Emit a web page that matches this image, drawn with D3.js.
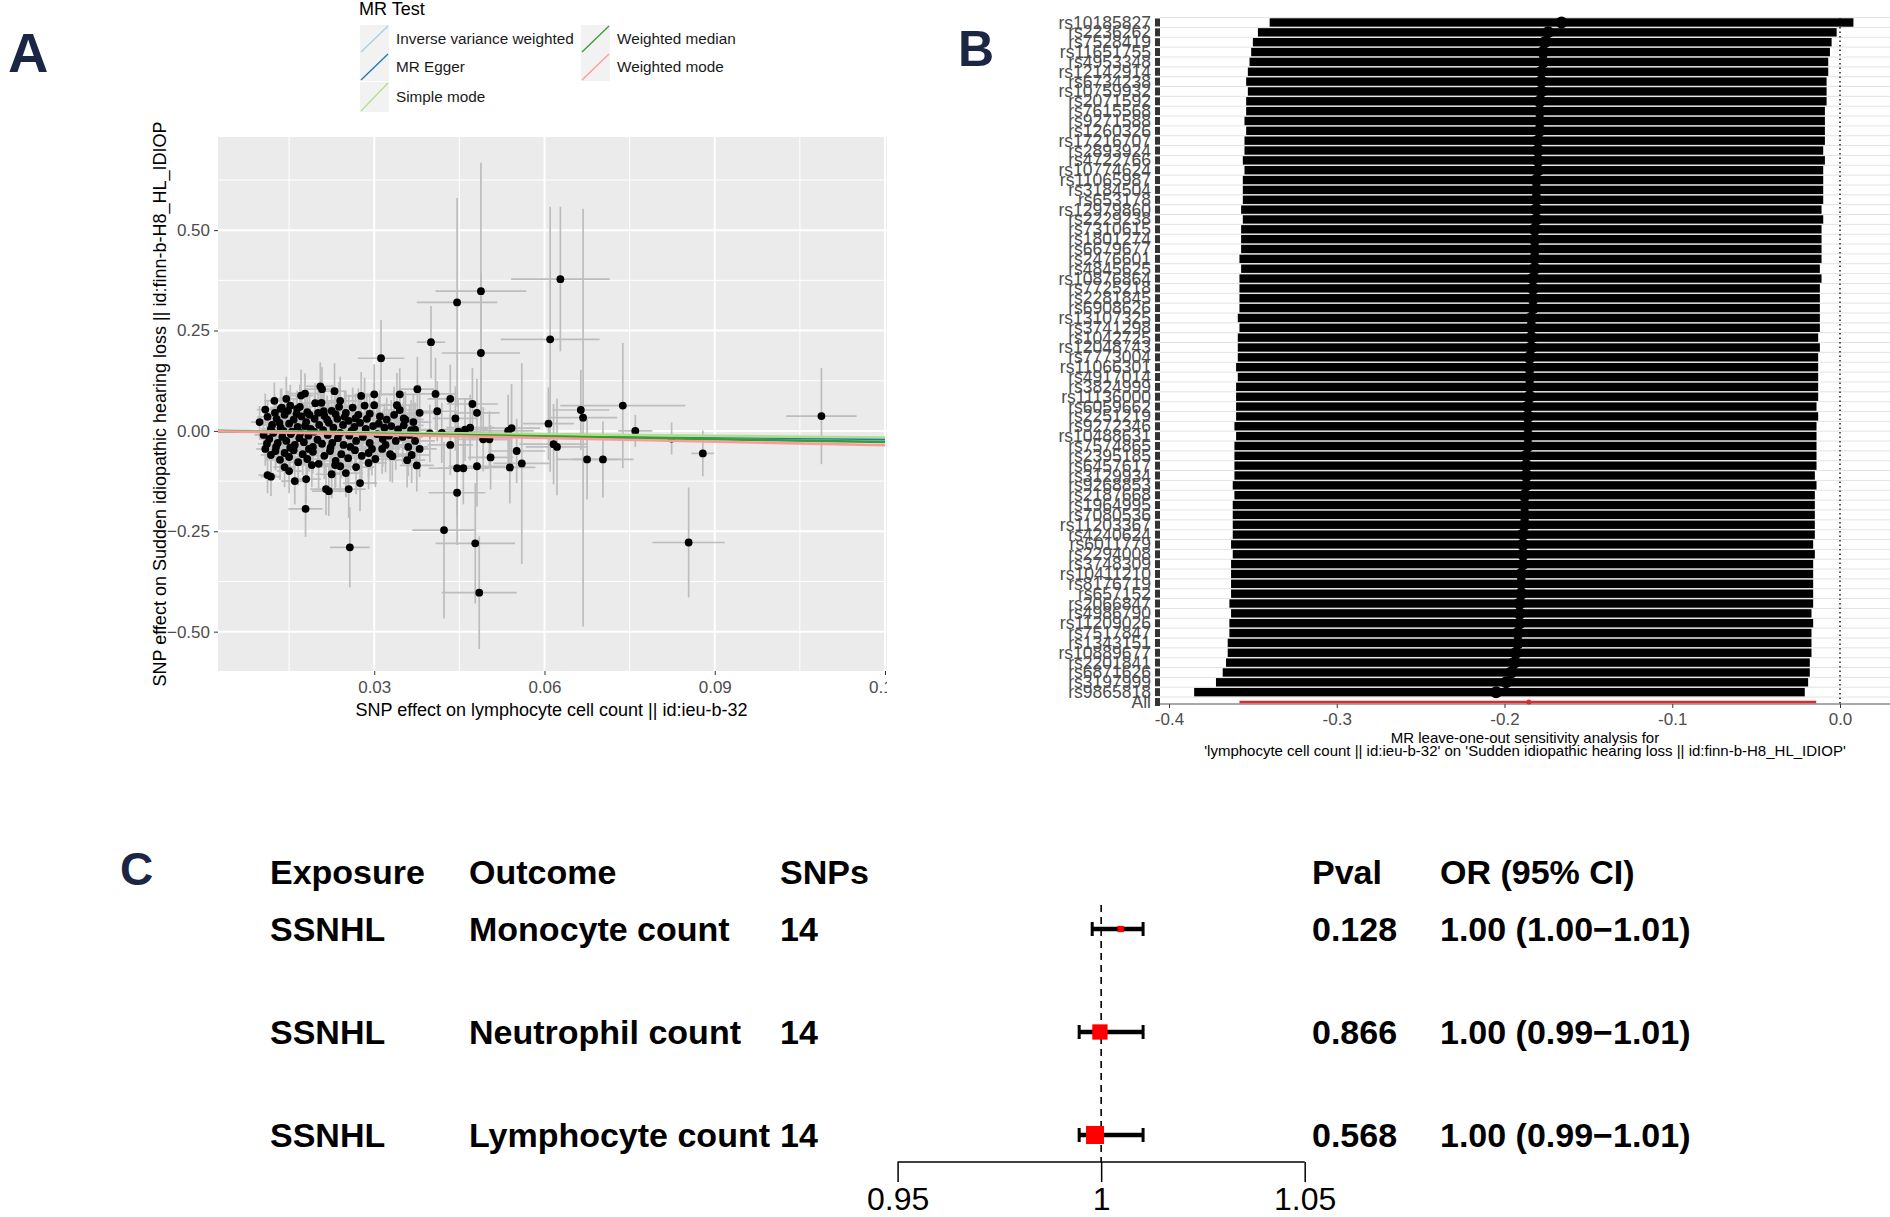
<!DOCTYPE html>
<html><head><meta charset="utf-8">
<script src="https://cdn.jsdelivr.net/npm/d3@7"></script>
<style>
body{margin:0;background:#fff}
svg{display:block}
text{font-family:"Liberation Sans",Arial,sans-serif}
</style>
</head><body>
<svg id="fig" width="1890" height="1217"></svg>
<script>
// ---------------- Panel A data ----------------
const mrMethods = ["Inverse variance weighted","MR Egger","Simple mode","Weighted median","Weighted mode"];
const mrSlopes = [-0.186,-0.167,-0.138,-0.230,-0.298];
const mrIntercepts = [0,0.0003,0,0,0];
const mrColors = ["#a6cee3","#1f78b4","#b2df8a","#33a02c","#fb9a99"];
const scatterXTicks = [0.03,0.06,0.09,0.12];
const scatterYTicks = [-0.50,-0.25,0.00,0.25,0.50];
// [beta exposure, beta outcome, se exposure, se outcome]
const snpEffects = [
[0.0205,0.111,0.0025,0.060],[0.0208,0.104,0.0030,0.055],[0.0230,0.099,0.0020,0.070],[0.0178,0.093,0.0028,0.050],
[0.0171,0.088,0.0022,0.065],[0.0277,0.087,0.0030,0.060],[0.0300,0.091,0.0035,0.075],[0.0345,0.091,0.0030,0.065],
[0.0124,0.075,0.0018,0.045],[0.0145,0.080,0.0020,0.055],[0.0196,0.069,0.0026,0.050],[0.0240,0.075,0.0030,0.060],
[0.0262,0.058,0.0024,0.050],[0.0283,0.063,0.0032,0.070],[0.0300,0.064,0.0028,0.055],[0.0340,0.064,0.0035,0.080],
[0.0345,0.052,0.0030,0.060],[0.0108,0.053,0.0015,0.040],[0.0137,0.058,0.0020,0.048],[0.0152,0.063,0.0022,0.052],
[0.0164,0.055,0.0025,0.045],[0.0182,0.047,0.0020,0.055],[0.0211,0.049,0.0028,0.050],[0.0225,0.050,0.0025,0.065],
[0.0250,0.045,0.0030,0.055],[0.0267,0.031,0.0030,0.060],[0.0292,0.043,0.0028,0.050],[0.0310,0.036,0.0035,0.065],
[0.0322,0.028,0.0030,0.055],[0.0355,0.028,0.0032,0.070],[0.0098,0.022,0.0015,0.040],[0.0112,0.035,0.0018,0.042],
[0.0120,0.015,0.0016,0.038],[0.0128,0.030,0.0020,0.045],[0.0135,0.008,0.0018,0.040],[0.0142,0.040,0.0020,0.050],
[0.0150,0.018,0.0022,0.045],[0.0158,0.028,0.0020,0.052],[0.0165,0.010,0.0024,0.048],[0.0172,0.036,0.0022,0.055],
[0.0180,0.022,0.0025,0.050],[0.0188,0.005,0.0020,0.045],[0.0195,0.030,0.0026,0.058],[0.0203,0.015,0.0024,0.050],
[0.0212,0.038,0.0028,0.060],[0.0220,0.020,0.0025,0.052],[0.0228,0.008,0.0030,0.055],[0.0235,0.030,0.0026,0.060],
[0.0245,0.015,0.0028,0.050],[0.0255,0.025,0.0030,0.065],[0.0265,0.010,0.0026,0.055],[0.0275,0.020,0.0030,0.060],
[0.0285,0.005,0.0032,0.058],[0.0298,0.012,0.0030,0.062],[0.0308,0.018,0.0035,0.070],[0.0318,0.008,0.0030,0.060],
[0.0330,0.012,0.0034,0.065],[0.0342,0.004,0.0032,0.070],[0.0352,0.014,0.0035,0.060],[0.0365,0.002,0.0030,0.075],
[0.0105,-0.010,0.0016,0.040],[0.0115,-0.020,0.0018,0.042],[0.0122,-0.005,0.0017,0.045],[0.0130,-0.030,0.0020,0.048],
[0.0138,-0.015,0.0019,0.040],[0.0145,-0.025,0.0022,0.050],[0.0153,-0.008,0.0020,0.045],[0.0160,-0.035,0.0024,0.052],
[0.0168,-0.018,0.0022,0.048],[0.0176,-0.028,0.0025,0.055],[0.0184,-0.012,0.0022,0.050],[0.0192,-0.040,0.0026,0.058],
[0.0200,-0.022,0.0024,0.052],[0.0208,-0.032,0.0028,0.060],[0.0218,-0.010,0.0025,0.055],[0.0226,-0.030,0.0028,0.060],
[0.0236,-0.018,0.0026,0.058],[0.0246,-0.035,0.0030,0.062],[0.0256,-0.012,0.0028,0.055],[0.0268,-0.025,0.0030,0.065],
[0.0280,-0.015,0.0032,0.060],[0.0292,-0.030,0.0030,0.068],[0.0305,-0.008,0.0034,0.065],[0.0315,-0.020,0.0032,0.070],
[0.0326,-0.012,0.0035,0.062],[0.0338,-0.025,0.0033,0.072],[0.0350,-0.015,0.0036,0.068],[0.0362,-0.010,0.0034,0.075],
[0.0372,-0.025,0.0035,0.070],[0.0108,-0.045,0.0016,0.042],[0.0118,-0.060,0.0018,0.045],[0.0126,-0.050,0.0020,0.048],
[0.0134,-0.072,0.0020,0.050],[0.0142,-0.055,0.0022,0.045],[0.0150,-0.065,0.0022,0.055],[0.0158,-0.048,0.0024,0.050],
[0.0166,-0.078,0.0025,0.058],[0.0174,-0.058,0.0024,0.052],[0.0182,-0.070,0.0026,0.060],[0.0192,-0.052,0.0025,0.055],
[0.0202,-0.082,0.0028,0.062],[0.0212,-0.062,0.0026,0.058],[0.0222,-0.050,0.0028,0.055],[0.0232,-0.075,0.0030,0.065],
[0.0242,-0.058,0.0028,0.060],[0.0254,-0.068,0.0030,0.062],[0.0266,-0.048,0.0030,0.058],[0.0278,-0.062,0.0032,0.065],
[0.0290,-0.055,0.0030,0.060],[0.0302,-0.070,0.0034,0.070],[0.0314,-0.045,0.0032,0.062],[0.0328,-0.058,0.0035,0.068],
[0.0112,-0.110,0.0016,0.045],[0.0118,-0.114,0.0018,0.048],[0.0142,-0.090,0.0020,0.050],[0.0150,-0.100,0.0022,0.055],
[0.0160,-0.125,0.0024,0.058],[0.0180,-0.120,0.0026,0.060],[0.0190,-0.085,0.0025,0.055],[0.0215,-0.145,0.0028,0.065],
[0.0220,-0.150,0.0030,0.062],[0.0225,-0.108,0.0028,0.060],[0.0240,-0.088,0.0030,0.065],[0.0250,-0.105,0.0030,0.060],
[0.0268,-0.090,0.0032,0.068],[0.0275,-0.130,0.0030,0.070],[0.0255,-0.145,0.0030,0.072],[0.0290,-0.080,0.0032,0.065],
[0.0125,0.045,0.0018,0.044],[0.0133,0.020,0.0019,0.042],[0.0140,0.000,0.0020,0.046],[0.0148,0.050,0.0021,0.050],
[0.0155,-0.002,0.0022,0.048],[0.0163,0.042,0.0022,0.052],[0.0170,-0.005,0.0023,0.050],[0.0178,0.012,0.0024,0.054],
[0.0186,0.040,0.0024,0.056],[0.0194,-0.002,0.0025,0.052],[0.0201,0.045,0.0026,0.058],[0.0210,0.002,0.0026,0.055],
[0.0217,0.028,0.0027,0.060],[0.0232,0.042,0.0028,0.062],[0.0240,-0.005,0.0028,0.058],[0.0248,0.035,0.0029,0.064],
[0.0260,0.000,0.0030,0.060],[0.0272,0.040,0.0030,0.066],[0.0118,0.005,0.0017,0.043],[0.0111,-0.032,0.0016,0.044],
[0.0127,-0.040,0.0019,0.046],[0.0135,0.055,0.0020,0.050],[0.0152,-0.042,0.0021,0.050],[0.0169,0.060,0.0023,0.055],
[0.0185,-0.045,0.0024,0.056],[0.0207,0.070,0.0026,0.060],[0.0223,-0.042,0.0027,0.058],[0.0238,0.060,0.0028,0.062],
[0.0258,-0.040,0.0030,0.060],[0.0287,0.030,0.0031,0.064],[0.0296,-0.045,0.0032,0.066],[0.0335,0.040,0.0034,0.070],
[0.0320,-0.035,0.0033,0.068],[0.0360,-0.040,0.0035,0.072],
[0.0380,0.045,0.0032,0.070],[0.0411,0.049,0.0035,0.075],[0.0352,0.031,0.0030,0.065],[0.0369,0.022,0.0032,0.070],
[0.0372,0.003,0.0030,0.068],[0.0398,-0.006,0.0035,0.072],[0.0419,-0.005,0.0036,0.075],[0.0448,-0.002,0.0040,0.080],
[0.0460,0.003,0.0040,0.078],[0.0469,0.008,0.0042,0.082],[0.0536,0.000,0.0045,0.090],[0.0366,-0.060,0.0032,0.070],
[0.0358,-0.073,0.0032,0.068],[0.0332,-0.063,0.0030,0.066],[0.0231,-0.085,0.0028,0.060],
[0.0400,0.221,0.0025,0.090],[0.0312,0.181,0.0041,0.095],[0.0446,0.320,0.0071,0.260],[0.0488,0.348,0.0080,0.320],
[0.0488,0.194,0.0069,0.200],[0.0628,0.378,0.0087,0.180],[0.0610,0.228,0.0087,0.330],[0.0376,0.104,0.0030,0.080],
[0.0408,0.092,0.0035,0.090],[0.0434,0.080,0.0040,0.085],[0.0473,0.067,0.0045,0.090],[0.0443,0.031,0.0040,0.080],
[0.0481,0.045,0.0040,0.085],[0.0664,0.052,0.0050,0.100],[0.0738,0.063,0.0110,0.156],[0.0668,0.033,0.0060,0.520],
[0.0607,0.018,0.0045,0.090],[0.0760,0.000,0.0030,0.040],[0.1088,0.037,0.0062,0.120],[0.0542,0.007,0.0050,0.110],
[0.0824,-0.019,0.0030,0.040],[0.0879,-0.056,0.0020,0.057],[0.0616,-0.033,0.0060,0.100],[0.0622,-0.040,0.0055,0.120],
[0.0675,-0.071,0.0055,0.100],[0.0703,-0.071,0.0054,0.095],[0.0551,-0.050,0.0050,0.080],[0.0560,-0.081,0.0050,0.250],
[0.0539,-0.091,0.0045,0.090],[0.0505,-0.066,0.0040,0.080],[0.0492,-0.021,0.0045,0.080],[0.0503,-0.021,0.0040,0.070],
[0.0434,-0.035,0.0040,0.075],[0.0446,-0.093,0.0050,0.120],[0.0457,-0.093,0.0045,0.090],[0.0481,-0.088,0.0050,0.100],
[0.0446,-0.154,0.0050,0.130],[0.0423,-0.247,0.0056,0.220],[0.0478,-0.280,0.0070,0.150],[0.0854,-0.278,0.0064,0.137],
[0.0485,-0.403,0.0066,0.140],[0.0257,-0.290,0.0035,0.100],[0.0179,-0.194,0.0030,0.070],[0.0380,-0.045,0.0030,0.070],
[0.0375,-0.086,0.0030,0.065]
];

// ---------------- Panel B data ----------------
const looSnps = ["rs10185827","rs2236262","rs7528419","rs11651755","rs4953348","rs12142914","rs6734238","rs10759932",
"rs2071592","rs7615568","rs9271588","rs1260326","rs17216707","rs2893924","rs4722766","rs10774624",
"rs11065987","rs3184504","rs653178","rs12979860","rs2229238","rs7310615","rs1801274","rs6679677",
"rs2476601","rs4845625","rs10876864","rs7725218","rs2281845","rs6908626","rs13107325","rs3741298",
"rs1042725","rs12048743","rs7773004","rs11066301","rs4917014","rs3824999","rs11136000","rs6059662",
"rs2251219","rs9272346","rs10488631","rs7574865","rs2395185","rs6457617","rs3129934","rs9268853",
"rs2187668","rs1964995","rs7080536","rs11203367","rs4240624","rs6011779","rs2294008","rs3748309",
"rs10411210","rs8176719","rs657152","rs2066847","rs4986790","rs11209026","rs7517847","rs1343151",
"rs10889677","rs2201841","rs6871626","rs3197999","rs9865818","All"];
const looB = [-0.166,-0.174,-0.176,-0.177,-0.177,-0.178,-0.178,-0.178,-0.179,-0.179,-0.179,-0.179,-0.180,-0.180,-0.180,-0.180,
-0.181,-0.181,-0.181,-0.181,-0.181,-0.182,-0.182,-0.182,-0.182,-0.182,-0.183,-0.183,-0.183,-0.183,-0.184,-0.184,
-0.184,-0.184,-0.185,-0.185,-0.185,-0.185,-0.185,-0.186,-0.186,-0.186,-0.186,-0.186,-0.187,-0.187,-0.187,-0.187,
-0.188,-0.188,-0.188,-0.188,-0.189,-0.189,-0.189,-0.189,-0.190,-0.190,-0.190,-0.191,-0.191,-0.191,-0.192,-0.192,
-0.193,-0.194,-0.196,-0.199,-0.205,-0.1855];
const looLo = [-0.340,-0.347,-0.350,-0.351,-0.352,-0.353,-0.354,-0.353,-0.354,-0.354,-0.355,-0.354,-0.355,-0.355,-0.356,-0.355,
-0.356,-0.356,-0.356,-0.357,-0.356,-0.357,-0.357,-0.357,-0.358,-0.357,-0.358,-0.358,-0.358,-0.358,-0.359,-0.358,
-0.359,-0.359,-0.359,-0.360,-0.359,-0.360,-0.360,-0.360,-0.360,-0.361,-0.360,-0.361,-0.361,-0.361,-0.361,-0.362,
-0.361,-0.362,-0.362,-0.362,-0.362,-0.363,-0.362,-0.363,-0.363,-0.363,-0.363,-0.364,-0.363,-0.364,-0.364,-0.365,
-0.365,-0.366,-0.368,-0.372,-0.385,-0.358];
const looHi = [0.008,-0.002,-0.005,-0.006,-0.007,-0.007,-0.008,-0.008,-0.008,-0.009,-0.009,-0.009,-0.009,-0.010,-0.009,-0.010,
-0.010,-0.010,-0.010,-0.011,-0.010,-0.011,-0.011,-0.011,-0.011,-0.012,-0.011,-0.012,-0.012,-0.012,-0.012,-0.012,
-0.013,-0.012,-0.013,-0.013,-0.013,-0.013,-0.013,-0.014,-0.013,-0.014,-0.014,-0.014,-0.014,-0.014,-0.015,-0.014,
-0.015,-0.015,-0.015,-0.015,-0.015,-0.016,-0.015,-0.016,-0.016,-0.016,-0.016,-0.016,-0.017,-0.016,-0.017,-0.017,
-0.017,-0.018,-0.018,-0.019,-0.021,-0.0142];
const looXTicks = [-0.4,-0.3,-0.2,-0.1,0.0];

// ---------------- Panel C data ----------------
const forestExposure = ["SSNHL","SSNHL","SSNHL"];
const forestOutcome = ["Monocyte count","Neutrophil count","Lymphocyte count"];
const forestSnps = [14,14,14];
const forestPval = ["0.128","0.866","0.568"];
const forestOR = [1.0048,0.9997,0.9985];
const forestLo = [0.9978,0.9946,0.9946];
const forestHi = [1.0103,1.0103,1.0103];
const forestORText = ["1.00 (1.00\u22121.01)","1.00 (0.99\u22121.01)","1.00 (0.99\u22121.01)"];
const forestWeight = [0.35,0.85,1.0];
const forestTicks = [0.95,1,1.05];
const forestHeaders = ["Exposure","Outcome","SNPs","Pval","OR (95% CI)"];

// ======================================================
const svg = d3.select("#fig");
const navy = "#1b2544";
const FONT = '"Liberation Sans",Arial,sans-serif';

// ---------------- Panel A ----------------
const A = {l:218, r:885, t:137, b:671};
const xA = d3.scaleLinear().domain([0.00247,0.12]).range([A.l,A.r]);
const yA = d3.scaleLinear().domain([-0.598,0.732]).range([A.b,A.t]);

const defs = svg.append("defs");
defs.append("clipPath").attr("id","clipA").append("rect").attr("x",0).attr("y",0).attr("width",887).attr("height",800);
defs.append("clipPath").attr("id","clipPanelA").append("rect")
  .attr("x",A.l).attr("y",A.t).attr("width",A.r-A.l).attr("height",A.b-A.t);

const gA = svg.append("g").attr("clip-path","url(#clipA)");
gA.append("rect").attr("x",A.l).attr("y",A.t).attr("width",A.r-A.l+2).attr("height",A.b-A.t).attr("fill","#ebebeb");

const xMinor = [0.015,0.045,0.075,0.105];
const yMinor = [-0.375,-0.125,0.125,0.375,0.625];
gA.selectAll(".xmin").data(xMinor).join("line").attr("x1",d=>xA(d)).attr("x2",d=>xA(d))
  .attr("y1",A.t).attr("y2",A.b).attr("stroke","#fff").attr("stroke-width",1);
gA.selectAll(".ymin").data(yMinor).join("line").attr("x1",A.l).attr("x2",A.r+2)
  .attr("y1",d=>yA(d)).attr("y2",d=>yA(d)).attr("stroke","#fff").attr("stroke-width",1);
gA.selectAll(".xmaj").data(scatterXTicks).join("line").attr("x1",d=>xA(d)).attr("x2",d=>xA(d))
  .attr("y1",A.t).attr("y2",A.b).attr("stroke","#fff").attr("stroke-width",2);
gA.selectAll(".ymaj").data(scatterYTicks).join("line").attr("x1",A.l).attr("x2",A.r+2)
  .attr("y1",d=>yA(d)).attr("y2",d=>yA(d)).attr("stroke","#fff").attr("stroke-width",2);

const gData = gA.append("g").attr("clip-path","url(#clipPanelA)");
gData.selectAll(".ev").data(snpEffects).join("line")
  .attr("x1",d=>xA(d[0])).attr("x2",d=>xA(d[0]))
  .attr("y1",d=>yA(d[1]-d[3])).attr("y2",d=>yA(d[1]+d[3]))
  .attr("stroke","#bdbdbd").attr("stroke-width",1.7);
gData.selectAll(".eh").data(snpEffects).join("line")
  .attr("x1",d=>xA(d[0]-d[2])).attr("x2",d=>xA(d[0]+d[2]))
  .attr("y1",d=>yA(d[1])).attr("y2",d=>yA(d[1]))
  .attr("stroke","#bdbdbd").attr("stroke-width",1.7);
gData.selectAll(".pt").data(snpEffects).join("circle")
  .attr("cx",d=>xA(d[0])).attr("cy",d=>yA(d[1])).attr("r",3.9).attr("fill","#000");
const xs = xA.domain();
gData.selectAll(".mr").data(mrMethods).join("line")
  .attr("x1",xA(xs[0])).attr("x2",xA(xs[1]))
  .attr("y1",(d,i)=>yA(mrIntercepts[i]+mrSlopes[i]*xs[0]))
  .attr("y2",(d,i)=>yA(mrIntercepts[i]+mrSlopes[i]*xs[1]))
  .attr("stroke",(d,i)=>mrColors[i]).attr("stroke-width",2.6);

// axes A
const axYA = gA.append("g").attr("transform",`translate(${A.l},0)`)
  .call(d3.axisLeft(yA).tickValues(scatterYTicks).tickFormat(d3.format(".2f")).tickSize(4).tickPadding(4));
const axXA = gA.append("g").attr("transform",`translate(0,${A.b})`)
  .call(d3.axisBottom(xA).tickValues(scatterXTicks).tickFormat(d=>String(+d.toFixed(2))).tickSize(4).tickPadding(6));
[axYA,axXA].forEach(a=>{
  a.select(".domain").remove();
  a.selectAll(".tick line").attr("stroke","#333");
  a.selectAll(".tick text").attr("fill","#4d4d4d").style("font-size","17px").style("font-family",FONT);
});
gA.append("text").attr("x",(A.l+A.r)/2).attr("y",716).attr("text-anchor","middle")
  .style("font-size","18px").attr("fill","#000").text("SNP effect on lymphocyte cell count || id:ieu-b-32");
gA.append("text").attr("transform",`translate(166,${(A.t+A.b)/2}) rotate(-90)`).attr("text-anchor","middle")
  .style("font-size","18px").attr("fill","#000").text("SNP effect on Sudden idiopathic hearing loss || id:finn-b-H8_HL_IDIOP");

// legend
const leg = svg.append("g");
leg.append("text").attr("x",359).attr("y",15).style("font-size","18px").attr("fill","#000").text("MR Test");
const legPos = [[360,25],[360,53],[360,82],[581,25],[581,53]];
const legOrder = [0,1,2,3,4];
legOrder.forEach((m,k)=>{
  const [lx,ly] = legPos[k];
  const h = k===2 ? 30 : 28;
  leg.append("rect").attr("x",lx).attr("y",ly).attr("width",29).attr("height",h).attr("fill","#f2f2f2");
  leg.append("line").attr("x1",lx+1).attr("y1",ly+h-1).attr("x2",lx+28).attr("y2",ly+1)
    .attr("stroke",mrColors[m]).attr("stroke-width",1.3);
  leg.append("text").attr("x",lx+36).attr("y",ly+h/2+5).style("font-size","15.3px").attr("fill","#1a1a1a").text(mrMethods[m]);
});

// ---------------- Panel B ----------------
const B = {l:1160, r:1890, t:18, b:704};
const xB = d3.scaleLinear().domain([-0.4,0]).range([1169,1840]);
const yB = d3.scalePoint().domain(looSnps).range([22.5,702]);
const step = yB.step();
const gB = svg.append("g");
const gridYs = [yB(looSnps[0])-step/2].concat(looSnps.slice(0,-1).map(s=>yB(s)+step/2));
gB.selectAll(".gb").data(gridYs).join("line").attr("x1",B.l).attr("x2",B.r)
  .attr("y1",d=>d).attr("y2",d=>d).attr("stroke","#e3e3e3").attr("stroke-width",1);
gB.append("line").attr("x1",xB(0)).attr("x2",xB(0)).attr("y1",B.t).attr("y2",B.b)
  .attr("stroke","#000").attr("stroke-width",1.3).attr("stroke-dasharray","1.5,3");
const rowsB = looSnps.map((s,i)=>({s,b:looB[i],lo:looLo[i],hi:looHi[i],all:s==="All"}));
gB.selectAll(".bar").data(rowsB.filter(d=>!d.all)).join("rect")
  .attr("x",d=>xB(d.lo)).attr("width",d=>xB(d.hi)-xB(d.lo))
  .attr("y",d=>yB(d.s)-4.2).attr("height",8.4).attr("fill","#000");
gB.selectAll(".pb").data(rowsB.filter(d=>!d.all)).join("circle")
  .attr("cx",d=>xB(d.b)).attr("cy",d=>yB(d.s)).attr("r",6).attr("fill","#000");
const allRow = rowsB.filter(d=>d.all);
gB.selectAll(".barAll").data(allRow).join("line")
  .attr("x1",d=>xB(d.lo)).attr("x2",d=>xB(d.hi)).attr("y1",d=>yB(d.s)).attr("y2",d=>yB(d.s))
  .attr("stroke","#e8262a").attr("stroke-width",2.5);
gB.selectAll(".pAll").data(allRow).join("circle")
  .attr("cx",d=>xB(d.b)).attr("cy",d=>yB(d.s)).attr("r",2.5).attr("fill","#e8262a");
gB.selectAll(".lab").data(looSnps).join("text")
  .attr("x",1151).attr("y",d=>yB(d)+6).attr("text-anchor","end")
  .style("font-size","17.5px").attr("fill","#4d4d4d").text(d=>d);
gB.selectAll(".tk").data(looSnps).join("rect")
  .attr("x",1155).attr("y",d=>yB(d)-4).attr("width",5).attr("height",8).attr("fill","#333");
const axXB = gB.append("g").attr("transform",`translate(0,${B.b})`)
  .call(d3.axisBottom(xB).tickValues(looXTicks).tickFormat(d3.format(".1f")).tickSize(4).tickPadding(5));
axXB.select(".domain").remove();
axXB.selectAll(".tick line").attr("stroke","#333");
axXB.selectAll(".tick text").attr("fill","#4d4d4d").style("font-size","17px").style("font-family",FONT)
  .text(d=>d3.format(".1f")(d).replace("\u2212","-"));
gB.append("line").attr("x1",B.l).attr("x2",B.r).attr("y1",B.b).attr("y2",B.b).attr("stroke","#555").attr("stroke-width",1.2);
gB.append("text").attr("x",1525).attr("y",743).attr("text-anchor","middle").style("font-size","15px")
  .attr("fill","#000").text("MR leave-one-out sensitivity analysis for");
gB.append("text").attr("x",1525).attr("y",756).attr("text-anchor","middle").style("font-size","15px")
  .attr("fill","#000").text("'lymphocyte cell count || id:ieu-b-32' on 'Sudden idiopathic hearing loss || id:finn-b-H8_HL_IDIOP'");

// ---------------- Panel C ----------------
const gC = svg.append("g");
const xC = d3.scaleLinear().domain([0.95,1.05]).range([897.6,1304.7]);
const yC = d3.scalePoint().domain(d3.range(forestOutcome.length)).range([929,1135]);
const colX = [270,469,780,1312,1440];
forestHeaders.forEach((h,i)=>{
  gC.append("text").attr("x",colX[i]).attr("y",884).style("font-size","34px").style("font-weight","bold")
    .attr("fill","#000").text(h);
});
const rowsC = forestOutcome.map((o,i)=>({i,exp:forestExposure[i],o,n:forestSnps[i],p:forestPval[i],
  or:forestOR[i],lo:forestLo[i],hi:forestHi[i],t:forestORText[i],w:forestWeight[i]}));
const rowTexts = [d=>d.exp,d=>d.o,d=>d.n,d=>d.p,d=>d.t];
rowTexts.forEach((f,c)=>{
  gC.selectAll(".c"+c).data(rowsC).join("text").attr("x",colX[c]).attr("y",d=>yC(d.i)+12)
    .style("font-size","34px").style("font-weight","bold").attr("fill","#000").text(f);
});
gC.append("line").attr("x1",xC(1)).attr("x2",xC(1)).attr("y1",905).attr("y2",1162)
  .attr("stroke","#000").attr("stroke-width",1.6).attr("stroke-dasharray","7,5");
gC.selectAll(".ci").data(rowsC).join("line").attr("x1",d=>xC(d.lo)).attr("x2",d=>xC(d.hi))
  .attr("y1",d=>yC(d.i)).attr("y2",d=>yC(d.i)).attr("stroke","#000").attr("stroke-width",4.5);
gC.selectAll(".capl").data(rowsC).join("line").attr("x1",d=>xC(d.lo)).attr("x2",d=>xC(d.lo))
  .attr("y1",d=>yC(d.i)-7).attr("y2",d=>yC(d.i)+7).attr("stroke","#000").attr("stroke-width",3);
gC.selectAll(".caph").data(rowsC).join("line").attr("x1",d=>xC(d.hi)).attr("x2",d=>xC(d.hi))
  .attr("y1",d=>yC(d.i)-7).attr("y2",d=>yC(d.i)+7).attr("stroke","#000").attr("stroke-width",3);
const boxS = d3.scaleLinear().domain([0,1]).range([0,18]);
gC.selectAll(".box").data(rowsC).join("rect")
  .attr("x",d=>xC(d.or)-boxS(d.w)/2).attr("y",d=>yC(d.i)-boxS(d.w)/2)
  .attr("width",d=>boxS(d.w)).attr("height",d=>boxS(d.w)).attr("fill","#ff0000");
const axC = gC.append("g").attr("transform","translate(0,1162)")
  .call(d3.axisBottom(xC).tickValues(forestTicks).tickFormat(d=>String(d)).tickSize(20).tickPadding(5));
axC.select(".domain").attr("stroke","#000").attr("stroke-width",1.5).attr("d",`M${xC(0.95)},0H${xC(1.05)}`);
axC.selectAll(".tick line").attr("stroke","#000").attr("stroke-width",1.5);
axC.selectAll(".tick text").attr("fill","#000").style("font-size","32px").style("font-family",FONT);

// panel letters
[["A",8,72,56],["B",958,66,50],["C",120,885,46]].forEach(([t,x,y,s])=>{
  svg.append("text").attr("x",x).attr("y",y).style("font-size",s+"px").style("font-weight","bold")
    .attr("fill",navy).text(t);
});
</script>
</body></html>
